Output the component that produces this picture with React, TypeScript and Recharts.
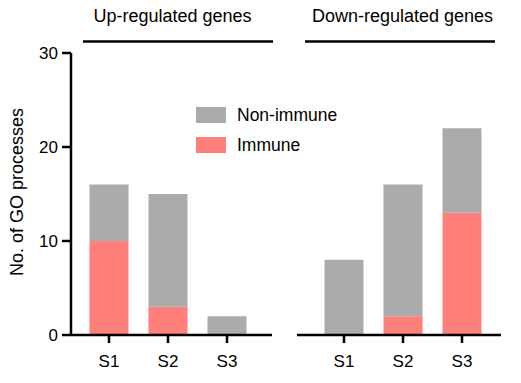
import { BarChart, Bar, XAxis, YAxis, Legend } from "recharts";

const categories = ["S1", "S2", "S3"];
const upImmune = [10, 3, 0];
const upNonImmune = [6, 12, 2];
const downImmune = [0, 2, 13];
const downNonImmune = [8, 14, 9];
const yTicks = [0, 10, 20, 30];
const groupTitles = ["Up-regulated genes", "Down-regulated genes"];

const GRAY = "#ABABAB";
const SALMON = "#FF7F7B";
const FONT = '"Liberation Sans", Arial, Helvetica, sans-serif';

const upData = categories.map((c, i) => ({ name: c, immune: upImmune[i], nonImmune: upNonImmune[i] }));
const downData = categories.map((c, i) => ({ name: c, immune: downImmune[i], nonImmune: downNonImmune[i] }));

const axisStroke = { stroke: "#000", strokeWidth: 2.5 };
const tickStyle = { fill: "#000", fontSize: 17, fontFamily: FONT };

function LegendBox({ payload }: any) {
  const items = [...(payload || [])].reverse();
  return (
    <div style={{ fontFamily: FONT, fontSize: 17.5, color: "#000" }}>
      {items.map((it: any) => (
        <div key={it.value} style={{ display: "flex", alignItems: "center", height: 30 }}>
          <span style={{ width: 30, height: 16, background: it.color, display: "inline-block", marginRight: 11 }} />
          <span>{it.value}</span>
        </div>
      ))}
    </div>
  );
}

function YLabel({ viewBox }: any) {
  const cy = viewBox.y + viewBox.height / 2 - 2;
  return (
    <text x={23} y={cy} transform={`rotate(-90, 23, ${cy})`} textAnchor="middle" fontSize={18} fontFamily={FONT} fill="#000">
      No. of GO processes
    </text>
  );
}

export default function App() {
  return (
    <div style={{ position: "absolute", left: 0, top: 0, width: 521, height: 383, background: "#fff" }}>
      <div style={{ position: "absolute", left: 0, top: 0 }}>
        <BarChart width={290} height={383} data={upData} margin={{ top: 53, right: 18, bottom: 8, left: 0 }}>
          <XAxis
            dataKey="name"
            height={40}
            padding={{ left: 8.5, right: 15.5 }}
            axisLine={axisStroke}
            tickLine={axisStroke}
            tickSize={8}
            tickMargin={12}
            tick={tickStyle}
          />
          <YAxis
            width={71}
            domain={[0, 30]}
            ticks={yTicks}
            axisLine={axisStroke}
            tickLine={axisStroke}
            tickSize={9}
            tickMargin={4}
            tick={tickStyle}
            label={<YLabel />}
          />
          <Legend
            layout="vertical"
            align="center"
            verticalAlign="middle"
            content={<LegendBox />}
            wrapperStyle={{ left: 196, top: 100, width: 160 }}
          />
          <Bar dataKey="immune" name="Immune" stackId="a" fill={SALMON} barSize={39} isAnimationActive={false} />
          <Bar dataKey="nonImmune" name="Non-immune" stackId="a" fill={GRAY} barSize={39} isAnimationActive={false} />
        </BarChart>
      </div>
      <div style={{ position: "absolute", left: 290, top: 0 }}>
        <BarChart width={231} height={383} data={downData} margin={{ top: 53, right: 20, bottom: 8, left: 7 }}>
          <XAxis
            dataKey="name"
            height={40}
            padding={{ left: 17.5, right: 9.5 }}
            axisLine={axisStroke}
            tickLine={axisStroke}
            tickSize={8}
            tickMargin={12}
            tick={tickStyle}
          />
          <YAxis hide domain={[0, 30]} ticks={yTicks} />
          <Bar dataKey="immune" name="Immune" stackId="a" fill={SALMON} barSize={39} isAnimationActive={false} />
          <Bar dataKey="nonImmune" name="Non-immune" stackId="a" fill={GRAY} barSize={39} isAnimationActive={false} />
        </BarChart>
      </div>
      <svg width={521} height={60} style={{ position: "absolute", left: 0, top: 0, pointerEvents: "none" }}>
        <text x={172.5} y={22} textAnchor="middle" fontSize={18} fontFamily={FONT} fill="#000">{groupTitles[0]}</text>
        <line x1={83} x2={273} y1={41.5} y2={41.5} stroke="#000" strokeWidth={2.5} />
        <text x={402.5} y={22} textAnchor="middle" fontSize={18} fontFamily={FONT} fill="#000">{groupTitles[1]}</text>
        <line x1={305} x2={495} y1={41.5} y2={41.5} stroke="#000" strokeWidth={2.5} />
      </svg>
    </div>
  );
}
